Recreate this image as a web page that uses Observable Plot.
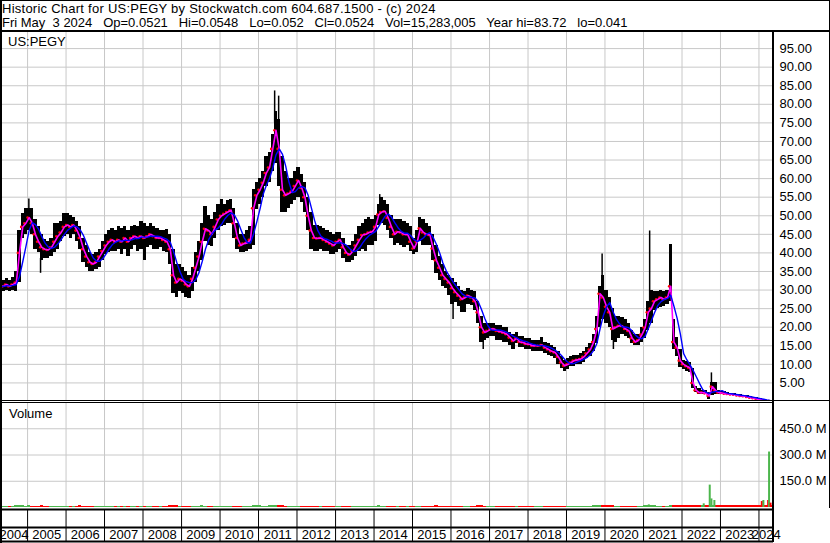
<!DOCTYPE html>
<html>
<head>
<meta charset="utf-8">
<script src="https://cdn.jsdelivr.net/npm/d3@7"></script>
<script src="https://cdn.jsdelivr.net/npm/@observablehq/plot@0.6"></script>
<style>
  html, body { margin: 0; padding: 0; background: #fff; overflow: hidden; }
  #wrap { position: relative; width: 830px; height: 543px; background: #fff; overflow: hidden;
          font-family: "Liberation Sans", Arial, sans-serif; font-size: 13px; color: #000; }
  .abs { position: absolute; }
  .ln { position: absolute; background: #000; }
  .t { position: absolute; white-space: pre; line-height: 14px; font-size: 13px; }
</style>
</head>
<body>
<div id="wrap">
  <div class="abs" id="price" style="left:0;top:31px"></div>
  <div class="abs" id="vol" style="left:0;top:402px"></div>
  <div class="abs" id="strip" style="left:0;top:507px"></div>
  <div class="t" style="left:2px;top:2px;letter-spacing:0.25px">Historic Chart for US:PEGY by Stockwatch.com 604.687.1500 - (c) 2024</div>
  <div class="t" style="left:2px;top:16px">Fri May  3 2024   Op=0.0521   Hi=0.0548   Lo=0.052   Cl=0.0524   Vol=15,283,005   Year hi=83.72   lo=0.041</div>
  <div class="t" style="left:8px;top:35px">US:PEGY</div>
  <div class="t" style="left:9px;top:407px">Volume</div>
  <div class="ln" style="left:0;top:0;width:830px;height:1px"></div>
  <div class="ln" style="left:0;top:30px;width:830px;height:2px"></div>
  <div class="ln" style="left:0;top:0;width:2px;height:543px"></div>
  <div class="ln" style="left:829px;top:0;width:1px;height:508px"></div>
  <div class="ln" style="left:772px;top:31px;width:2px;height:511px"></div>
  <div class="ln" style="left:0;top:400px;width:830px;height:1px"></div>
  <div class="ln" style="left:0;top:402px;width:774px;height:1px"></div>
</div>
<script>
// ---- data (monthly, Apr 2004 .. May 2024) ----
const firstYear = 2004, firstMonthIndex = 3; // April 2004

const closes = [
  31, 31, 31.5, 31, 31.5, 32, 40, 47, 48,
  49.5, 48, 45, 43, 41.5, 41, 40.8, 41.5, 43, 44.5, 45.5, 47,
  47.5, 47, 47.5, 46, 44, 41, 39, 37.5, 37, 37.5, 39, 40.5,
  42, 43, 43.5, 43, 43.5, 43, 44, 43, 44, 44.5, 44, 44.5,
  44, 44.5, 45, 44.5, 44, 44, 43.5, 43, 41, 34, 32, 33,
  32.5, 31.5, 31, 33, 36, 39, 43, 46.5, 46, 45, 47, 49,
  50, 50.5, 51, 51.5, 48, 44, 42, 42.5, 42.7, 43.5, 52, 55.5,
  57, 58.9, 61.5, 63, 68, 73, 68, 57, 55.5, 56, 56.5, 58,
  59.5, 57.5, 55, 50, 46, 44, 43.9, 44, 43.5, 43, 42.5, 42,
  43, 43.5, 41.5, 40, 39.5, 40.5, 42, 43.5, 44.8, 45, 45.5, 45.7,
  47, 50.3, 51, 51.2, 49.4, 47, 45, 45.7, 45.5, 45, 45, 43,
  41.2, 43, 46.6, 45.5, 45, 44.8, 41.2, 38, 36, 34, 33, 32,
  30.5, 29.4, 28.5, 27.5, 28, 28.5, 28, 27, 24, 20, 18.6, 19,
  19.5, 19.5, 19, 18.8, 18.5, 18.1, 17.2, 16.3, 17, 16, 15.9, 15.5,
  15.4, 15, 15, 15, 15.2, 14.5, 14, 13.5, 13.2, 12, 10.5, 9.6,
  10, 10.5, 11, 11.2, 11.4, 12, 13, 14, 16, 19.5, 29, 28,
  25.5, 24, 19.5, 20, 20.4, 20.3, 19.5, 19, 17, 16, 16.5, 18,
  19.9, 24, 25, 27, 27.5, 28, 27.5, 28, 31, 16, 14.5, 11,
  10, 9.5, 9.1, 5, 3, 2.4, 2.4, 2.2, 1.5, 4, 3, 2.4,
  2.3, 2.1, 2, 1.9, 1.8, 1.6, 1.5, 1.4, 1.2, 1.0, 0.9, 0.7,
  0.5, 0.35, 0.2, 0.1, 0.0524
];

const highs = [
  33, 32.5, 33, 32.5, 33.5, 35, 46, 50.5, 52,
  52, 52, 49, 47, 45, 43.5, 43, 44, 48, 48, 48.5, 50.5,
  50.5, 50, 49.5, 48.5, 47, 44, 42, 40, 39.5, 40, 41, 43,
  45, 46, 46.5, 46, 47, 46.5, 47, 46, 47, 47.5, 47, 48.5,
  48, 47, 48, 47, 46.5, 46, 46, 46.3, 45, 41, 37, 37,
  36, 35, 34, 36, 40, 43, 48, 52.6, 50, 49, 51, 53,
  54.4, 53, 54, 54.4, 52, 48, 45, 45, 46, 47, 57, 59,
  60, 62, 66, 67, 72, 78, 76, 66, 62, 60, 60, 62,
  63, 61, 59, 55, 51, 47.5, 47.5, 47, 46.5, 46, 45.5, 45,
  45.5, 45.5, 44, 42, 42, 43, 45, 47, 48, 49, 49.4, 49,
  50, 53, 55, 54, 53, 50, 49, 49, 49, 48.5, 48, 47,
  44, 46, 49.4, 49, 48, 47, 45, 42, 39, 37, 35, 34,
  33, 32, 31, 30, 29.5, 30.3, 30, 29.5, 27, 23, 21, 21,
  21, 21, 20.4, 20.4, 20, 20, 18.6, 18, 18.6, 17.5, 17.5, 17,
  17, 16.5, 16.5, 16.5, 17.2, 16, 15.5, 15, 14.5, 13.5, 12, 11,
  11.5, 12, 12.3, 12.5, 12.8, 13.5, 14.5, 15.5, 18, 23, 31, 34,
  30, 28, 25, 23, 23, 22.5, 22, 21, 19, 18, 18, 20,
  22, 27, 30, 29.7, 29.7, 30, 29.5, 30, 42.3, 22, 17.2, 14,
  11, 10.9, 10.5, 9, 4, 3.5, 3, 3, 2.5, 5, 5, 3,
  2.8, 2.6, 2.4, 2.2, 2.1, 1.9, 1.8, 1.7, 1.5, 1.3, 1.2, 1.0,
  0.8, 0.6, 0.4, 0.2, 0.0548
];

const lows = [
  29.5, 29.5, 30, 29.5, 30, 29.5, 32, 44, 45,
  46, 45, 41, 40, 38, 38.5, 38.5, 39, 40, 41, 43, 44.5,
  45, 44, 45, 43, 41, 37.5, 36, 35, 35, 35.5, 36, 38,
  39.5, 40, 40.5, 40.5, 41, 39.5, 41, 39, 41, 42, 40.5, 41,
  38, 41.5, 42, 41, 41, 41.5, 40.5, 40, 37, 29, 28, 29.5,
  29, 28, 27.8, 29.5, 32, 35, 38, 43, 42, 41.8, 44, 46,
  47, 47.5, 48, 48, 44, 41, 40, 40, 40.5, 41, 42, 51.7,
  53, 55, 58, 59, 62, 64, 58, 50.8, 51, 52, 53, 54,
  55, 53.5, 51, 46, 41, 40.5, 40.3, 41, 40.5, 40.5, 39.5, 39.5,
  40, 41, 38.5, 37.5, 37.5, 38, 39, 40.5, 41, 40.3, 42, 42,
  43, 47.5, 48, 47.5, 46, 44, 42, 42.5, 42, 41.5, 42, 40.5,
  39.5, 40, 43, 42, 42, 42, 38, 34.5, 32.5, 31, 30.5, 28.5,
  26, 26.6, 25.5, 24, 24, 26, 25.8, 24.5, 21, 16, 16.5, 17,
  17.5, 17.5, 16.5, 16.5, 16, 16, 15, 14, 15.5, 14.5, 14.5, 14,
  14, 13.5, 13.5, 13.5, 13.5, 13, 12.5, 12, 11.5, 10, 9, 8.2,
  8.5, 9.5, 9.5, 10, 10, 10.5, 11.5, 12, 13.5, 15.5, 20, 22,
  21, 20, 16.5, 16, 17, 18, 17.5, 17, 15.5, 15, 15, 16,
  17, 19, 21, 24.5, 25, 25.3, 25.5, 26, 27, 14, 12, 9.1,
  8.5, 8, 7.7, 3.5, 2.3, 2, 2, 1.8, 0.6, 1.5, 2, 1.8,
  1.9, 1.8, 1.7, 1.6, 1.5, 1.3, 1.2, 1.1, 0.9, 0.8, 0.7, 0.5,
  0.35, 0.2, 0.1, 0.05, 0.041
];

// single-day price spikes (thin bars): date, from, to
const pxSpikeDates = ["2005-01-13", "2005-05-04", "2011-06-03", "2011-07-11", "2014-02-24", "2016-01-21",
                      "2016-11-02", "2019-12-05", "2020-03-21", "2021-02-28", "2022-10-07"];
const pxSpikeFrom  = [50, 38.5, 75, 72, 52, 26.6, 17, 33, 17, 27, 4];
const pxSpikeTo    = [54.5, 34.5, 83.6, 82.2, 55.7, 22.1, 14, 39.7, 14, 45.9, 7.7];

// monthly volume, millions of shares
const volumes = [
  8, 8, 8, 8, 8, 9, 10, 9, 8,
  9, 8, 8, 8, 9, 8, 8, 8, 8, 8, 8, 8,
  8, 8, 8, 8, 9, 8, 8, 8, 8, 8, 8, 8,
  8, 8, 8, 8, 8, 8, 8, 8, 8, 8, 8, 8,
  8, 8, 8, 8, 8, 8, 8, 8, 9, 10, 9, 8,
  8, 8, 8, 8, 8, 8, 9, 8, 8, 8, 8, 8,
  8, 8, 8, 8, 8, 8, 8, 8, 8, 8, 9, 9,
  9, 8, 8, 9, 10, 10, 9, 9, 8, 8, 8, 8,
  8, 8, 8, 8, 8, 8, 8, 8, 8, 8, 8, 8,
  8, 8, 8, 8, 8, 8, 8, 8, 8, 8, 8, 8,
  8, 9, 8, 8, 8, 8, 8, 8, 8, 8, 8, 8,
  8, 8, 8, 8, 8, 8, 8, 9, 8, 8, 8, 8,
  8, 8, 8, 8, 8, 8, 8, 8, 9, 9, 8, 8,
  8, 8, 8, 8, 8, 8, 8, 8, 8, 8, 8, 8,
  8, 8, 8, 8, 8, 8, 8, 8, 8, 8, 8, 8,
  8, 8, 8, 8, 8, 8, 8, 8, 9, 9, 10, 10,
  9, 9, 9, 8, 8, 8, 8, 8, 8, 8, 8, 8,
  9, 10, 9, 9, 8, 8, 8, 8, 10, 10, 9, 9,
  9, 9, 9, 10, 10, 10, 10, 11, 12, 12, 10, 9,
  9, 9, 9, 9, 9, 9, 9, 9, 9, 9, 9, 9,
  11, 11, 12, 13, 12
];

// single-day volume spikes (millions)
const spikeDates = ["2021-02-20", "2021-09-03", "2022-07-26", "2022-09-21", "2022-10-07", "2022-11-04",
                    "2024-01-28", "2024-02-12", "2024-03-28", "2024-04-06", "2024-04-20"];
const spikeVols  = [15, 6, 21, 128, 49, 40, 34, 40, 40, 317, 25];
const spikeUp    = [true, true, true, true, true, true, false, true, false, true, false];

const yearLabels = ["2004","2005","2006","2007","2008","2009","2010","2011","2012","2013","2014",
                    "2015","2016","2017","2018","2019","2020","2021","2022","2023","2024"];
const priceTicks = [5,10,15,20,25,30,35,40,45,50,55,60,65,70,75,80,85,90,95];
const volTicks = [150, 300, 450];
const stripRows = [0, 1, 2.3]; // bottom of labels row, divider, top of tick row

// ---- build tables ----
const xDomain = [new Date(Date.UTC(2004, 3, 19)), new Date(Date.UTC(2024, 4, 18))];
const rows = closes.map((c, i) => {
  const d0 = new Date(Date.UTC(firstYear, firstMonthIndex + i, 1));
  const d1 = new Date(Date.UTC(firstYear, firstMonthIndex + i + 1, 1));
  return {d0, d1, mid: new Date((+d0 + +d1) / 2), close: c, hi: highs[i], lo: lows[i],
          vol: volumes[i], up: i === 0 || c >= closes[i - 1]};
});
const pxSpikes = pxSpikeDates.map((d, i) => ({date: new Date(d), a: pxSpikeFrom[i], b: pxSpikeTo[i]}));
const spikes = spikeDates.map((d, i) => ({date: new Date(d), vol: spikeVols[i], up: spikeUp[i]}));
const yearBounds = yearLabels.slice(1).map(y => new Date(Date.UTC(+y, 0, 1)));
const yearCells = yearLabels.map(y => {
  const s = Math.max(Date.UTC(+y, 0, 1), +xDomain[0]);
  const e = Math.min(Date.UTC(+y + 1, 0, 1), +xDomain[1]);
  return {label: y, mid: new Date((s + e) / 2)};
});

const GRID = "#c8c8c8", GREEN = "#4cb64c", RED = "#ff0000";
const common = {
  width: 830, marginLeft: 0, marginRight: 57,
  x: {type: "utc", domain: xDomain, axis: null},
  style: {fontFamily: "'Liberation Sans', Arial, sans-serif", fontSize: "13px", background: "transparent", color: "#000"}
};

const price = Plot.plot({
  ...common, height: 370, marginTop: 0, marginBottom: 0,
  y: {domain: [0, 99.6], axis: "right", ticks: priceTicks, tickFormat: d => d.toFixed(2),
      tickSize: 0, tickPadding: 6, label: null},
  marks: [
    Plot.ruleX(yearBounds, {stroke: GRID, strokeWidth: 1}),
    Plot.ruleY(priceTicks, {stroke: GRID, strokeWidth: 1}),
    Plot.rect(rows, {x1: "d0", x2: "d1", y1: "lo", y2: "hi", fill: "#000", shapeRendering: "crispEdges", clip: true}),
    Plot.ruleX(pxSpikes, {x: "date", y1: "a", y2: "b", stroke: "#000", strokeWidth: 1.5, clip: true}),
    Plot.dot(rows, {x: "d0", y: "close", r: 1.3, fill: RED, stroke: null, clip: true}),
    Plot.lineY(rows, {x: "mid", y: "close", stroke: "#ff00ff", strokeWidth: 1.6, clip: true}),
    Plot.lineY(rows, Plot.windowY({k: 4, anchor: "end"}, {x: "mid", y: "close", stroke: "#0000ff", strokeWidth: 1.4, clip: true}))
  ]
});
document.getElementById("price").appendChild(price);

const vol = Plot.plot({
  ...common, height: 106, marginTop: 0, marginBottom: 1,
  y: {domain: [0, 600], axis: "right", ticks: volTicks, tickFormat: d => d.toFixed(1) + " M",
      tickSize: 0, tickPadding: 6, label: null},
  marks: [
    Plot.ruleX(yearBounds, {stroke: GRID, strokeWidth: 1}),
    Plot.ruleY(volTicks, {stroke: GRID, strokeWidth: 1}),
    Plot.rect(rows, {x1: "d0", x2: "d1", y1: 0, y2: "vol", fill: d => d.up ? GREEN : RED, shapeRendering: "crispEdges", clip: true}),
    Plot.ruleX(spikes, {x: "date", y1: 0, y2: "vol", stroke: d => d.up ? GREEN : RED, strokeWidth: 2, clip: true})
  ]
});
document.getElementById("vol").appendChild(vol);

const strip = Plot.plot({
  ...common, height: 36, marginTop: 2, marginBottom: 2,
  y: {domain: [0, 2.3], axis: null},
  marks: [
    Plot.ruleY(stripRows, {stroke: "#000", strokeWidth: 2}),
    Plot.ruleX(yearBounds, {y1: 0, y2: 2.3, stroke: "#000", strokeWidth: 1}),
    Plot.text(yearCells, {x: "mid", y: () => 0.5, text: "label", fill: "#000", fontSize: 13})
  ]
});
document.getElementById("strip").appendChild(strip);
</script>
</body>
</html>
